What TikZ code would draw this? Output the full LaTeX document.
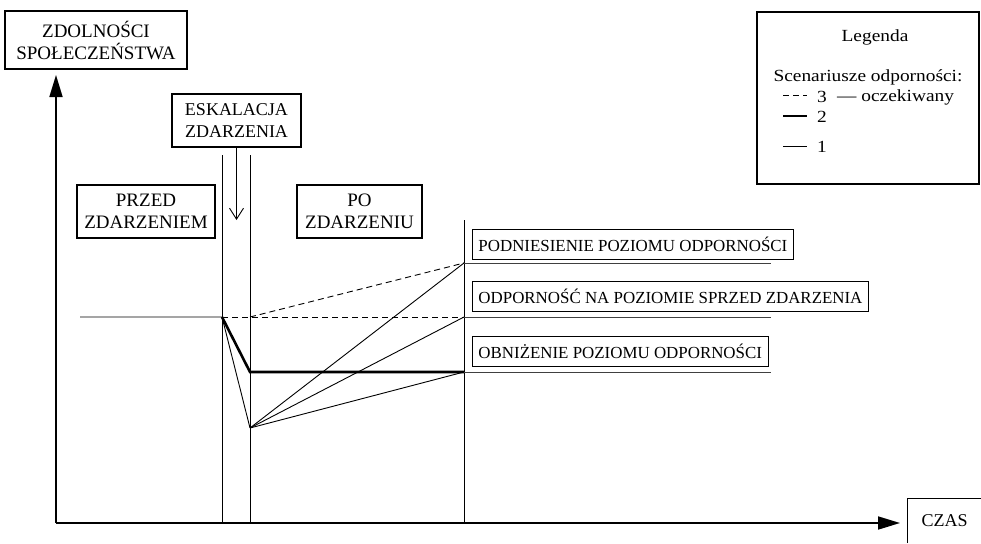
\documentclass[tikz,border=0pt]{standalone}
\usepackage{fontspec}
\setmainfont{Liberation Serif}
\newfontfamily\legfont[FakeStretch=1.14]{Liberation Serif}
\usetikzlibrary{positioning,arrows.meta}
\tikzset{
box/.style={draw, line width=1.3pt, align=center, inner sep=0pt, font=\fontsize{19}{22}\selectfont},
lvl/.style={draw, line width=0.9pt, inner xsep=6pt, inner ysep=0pt, minimum height=30pt, font=\fontsize{16.9}{20}\selectfont},
axis/.style={line width=1.7pt, -{Triangle[length=22pt,width=13pt]}},
ln/.style={line width=0.9pt},
thk/.style={line width=2.6pt},
dsh/.style={line width=0.9pt, dash pattern=on 6pt off 4pt},
lv/.style={line width=0.8pt, black!75},
leg/.style={font=\legfont\fontsize{17}{20}\selectfont, inner sep=0pt}
}
\begin{document}
\begin{tikzpicture}[x=1pt,y=-1pt]
\useasboundingbox (0,0) rectangle (981,543);
\coordinate (o) at (56,523);
\coordinate[above=448pt of o] (yt);
\coordinate[right=844pt of o] (xt);
\coordinate[right=166pt of o] (a);
\coordinate[right=28pt of a] (b);
\coordinate[right=214pt of b] (c);
\coordinate[above=368pt of a] (at);
\coordinate[above=368pt of b] (bt);
\coordinate[above=303pt of c] (ct);
\coordinate[above=206pt of a] (p0);
\coordinate[above=206pt of b] (b0);
\coordinate[above=151pt of b] (p1);
\coordinate[above=95pt of b] (p2);
\coordinate[above=151pt of c] (r1);
\coordinate[above=206pt of c] (r2);
\coordinate[above=260pt of c] (r3);
\coordinate[left=142pt of p0] (l0);
\coordinate[right=307pt of r1] (s1);
\coordinate[right=307pt of r2] (s2);
\coordinate[right=307pt of r3] (s3);
\coordinate (e) at (236.5,220);
\node[box, minimum width=182pt, minimum height=58pt] (zd) at (96,40) {ZDOLNOŚCI\\SPOŁECZEŃSTWA};
\node[box, minimum width=129pt, minimum height=53pt, font=\fontsize{18}{22}\selectfont] (esk) at (236.5,120.5) {ESKALACJA\\ZDARZENIA};
\node[box, minimum width=138pt, minimum height=53pt] (przed) at (146,211.5) {PRZED\\ZDARZENIEM};
\node[box, minimum width=125pt, minimum height=53pt] (po) at (359.5,211.5) {PO\\ZDARZENIU};
\node[lvl, above right=3pt and 8pt of r3] (podn) {PODNIESIENIE POZIOMU ODPORNOŚCI};
\node[lvl, above right=5pt and 8pt of r2] (odp) {ODPORNOŚĆ NA POZIOMIE SPRZED ZDARZENIA};
\node[lvl, above right=5pt and 8pt of r1] (obn) {OBNIŻENIE POZIOMU ODPORNOŚCI};
\node[minimum width=73pt, minimum height=44pt, inner sep=0pt, font=\fontsize{18}{22}\selectfont] (czas) at (944.5,521) {CZAS};
\draw[line width=1.3pt] (czas.south west) |- (czas.north east);
\node[box, minimum width=222pt, minimum height=172pt] (lg) at (868,98) {};
\node[leg] (lt) at (875,37) {Legenda};
\node[leg] (ls) at (868,77) {Scenariusze odporności:};
\coordinate (d3a) at (783,95); \coordinate[right=24pt of d3a] (d3b);
\coordinate (d2a) at (783,116); \coordinate[right=24pt of d2a] (d2b);
\coordinate (d1a) at (783,146); \coordinate[right=24pt of d1a] (d1b);
\node[leg] (n3) at (822,97) {3};
\node[leg, anchor=west] (ocz) at (837,97) {— oczekiwany};
\node[leg] (n2) at (822,117) {2};
\node[leg] (n1) at (822,147) {1};
\draw[dsh] (d3a) -- (d3b);
\draw[thk] (d2a) -- (d2b);
\draw[ln] (d1a) -- (d1b);
\draw[axis] (o) -- (yt);
\draw[axis] (o) -- (xt);
\draw[ln] (a) -- (at);
\draw[ln] (b) -- (bt);
\draw[ln] (c) -- (ct);
\draw[ln, -{Straight Barb[length=11pt,width=14pt]}] (esk) -- (e);
\draw[ln] (l0) -- (p0) -- (p2);
\draw[dsh] (p0) -- (r2);
\draw[dsh] (b0) -- (r3);
\draw[thk] (p0) -- (p1) -- (r1);
\draw[ln] (p2) -- (r3);
\draw[ln] (p2) -- (r2);
\draw[ln] (p2) -- (r1);
\draw[lv] (r1) -- (s1);
\draw[lv] (r2) -- (s2);
\draw[lv] (r3) -- (s3);
\end{tikzpicture}
\end{document}
